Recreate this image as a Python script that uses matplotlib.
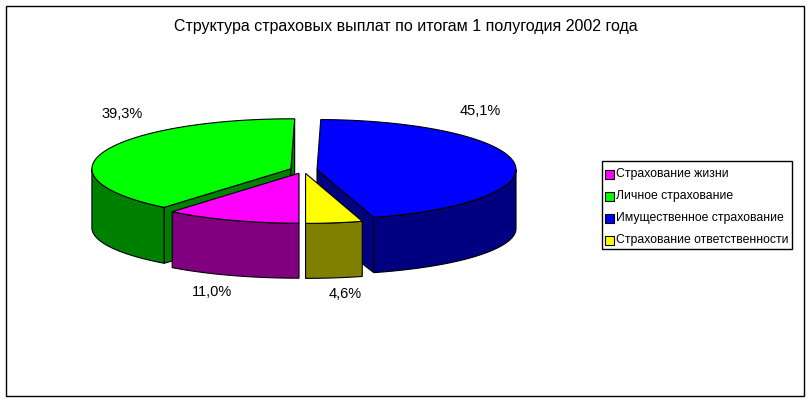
import numpy as np
import matplotlib.pyplot as plt
from matplotlib.patches import Polygon, Rectangle

# data
labels = ['Страхование жизни', 'Личное страхование',
          'Имущественное страхование', 'Страхование ответственности']
shares = [11.0, 39.3, 45.1, 4.6]
pct_text = ['11,0%', '39,3%', '45,1%', '4,6%']
top_colors = ['#ff00ff', '#00ff00', '#0000ff', '#ffff00']
side_colors = ['#800080', '#008000', '#000080', '#808000']

plt.rcParams['font.family'] = ['Liberation Sans', 'DejaVu Sans']

fig = plt.figure(figsize=(8.1, 4.01), dpi=100)
ax = fig.add_axes([0, 0, 1, 1])
ax.set_xlim(0, 810)
ax.set_ylim(401, 0)
ax.axis('off')

# outer border
ax.add_patch(Rectangle((5.5, 5.5), 798.5, 390.5, fill=False, ec='black', lw=1))

ax.text(406, 27, 'Структура страховых выплат по итогам 1 полугодия 2002 года',
        ha='center', va='center', fontsize=11.5)

# pie geometry (pixels)
cx, cy = 303.6, 170.0
a, b = 199.0, 50.0
depth, b_bot = 59.0, 46.0
explode = 0.068
start = 180.0

def top_pt(x0, y0, t):
    r = np.radians(t)
    return x0 + a * np.sin(r), y0 - b * np.cos(r)

def bot_pt(x0, y0, t):
    r = np.radians(t)
    return x0 + a * np.sin(r), y0 + depth - b_bot * np.cos(r)

fr = np.array(shares) / sum(shares)
ends = start + 360 * np.cumsum(fr)
begins = ends - 360 * fr
mids = (begins + ends) / 2

# back to front
order = np.argsort(-np.cos(np.radians(mids)))
edge = dict(ec='black', lw=0.8, joinstyle='miter')

for i in order:
    t1, t2 = begins[i], ends[i]
    m = np.radians(mids[i])
    x0 = cx + explode * a * np.sin(m)
    y0 = cy - explode * b * np.cos(m)

    # radial walls
    for t, is_start in ((t1, True), (t2, False)):
        s = np.sin(np.radians(t))
        if (is_start and s < -1e-6) or (not is_start and s > 1e-6):
            pts = [(x0, y0), top_pt(x0, y0, t), bot_pt(x0, y0, t), (x0, y0 + depth)]
            ax.add_patch(Polygon(pts, closed=True, fc=side_colors[i], **edge))

    # outer wall, front half only
    for k in (0, 1):
        lo, hi = max(t1, 90 + 360 * k), min(t2, 270 + 360 * k)
        if hi > lo:
            ts = np.linspace(lo, hi, 80)
            up = [top_pt(x0, y0, t) for t in ts]
            dn = [bot_pt(x0, y0, t) for t in ts[::-1]]
            ax.add_patch(Polygon(up + dn, closed=True, fc=side_colors[i], **edge))

    # top face
    ts = np.linspace(t1, t2, 150)
    pts = [(x0, y0)] + [top_pt(x0, y0, t) for t in ts]
    ax.add_patch(Polygon(pts, closed=True, fc=top_colors[i], **edge))

# percentage labels
label_pos = [(212, 292), (122, 114), (480, 111), (345, 294)]
for (lx, ly), s in zip(label_pos, pct_text):
    ax.text(lx, ly, s, ha='center', va='center', fontsize=10.5)

# legend
ax.add_patch(Rectangle((602, 161), 190, 88, fill=False, ec='black', lw=1))
rows = [174, 196, 218, 240]
for y, lab, c in zip(rows, labels, top_colors):
    ax.add_patch(Rectangle((604.5, y - 4.5), 9, 9, fc=c, ec='black', lw=0.8))
    ax.text(616.5, y, lab, ha='left', va='center', fontsize=8.8)

fig.savefig('out.png', dpi=100)
